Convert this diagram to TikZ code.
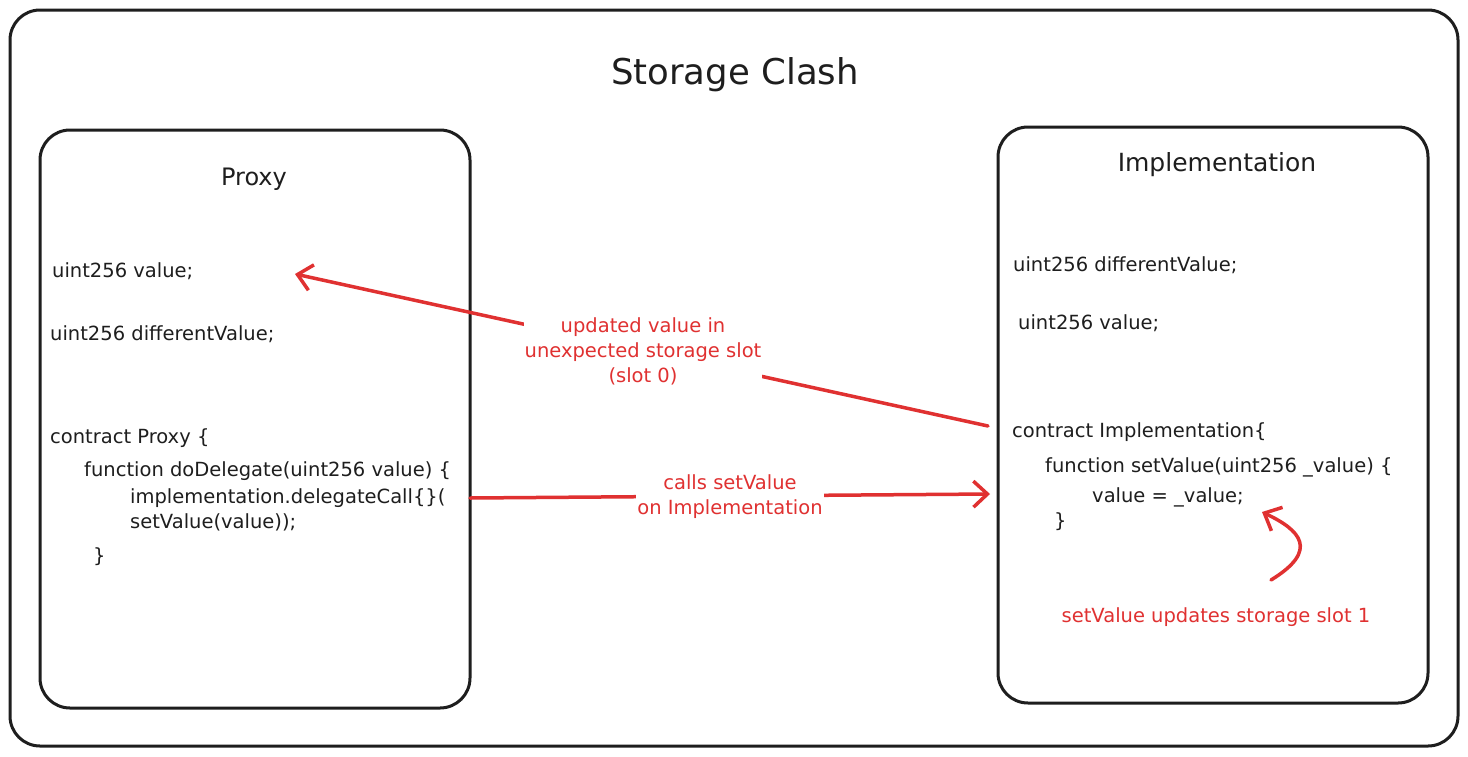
\documentclass[tikz,border=0pt]{standalone}
\usepackage{fontspec}
\setmainfont{DejaVu Sans}
\usetikzlibrary{arrows.meta}
\definecolor{ink}{HTML}{1E1E1E}
\definecolor{redink}{HTML}{E03131}
\tikzset{
  frame/.style={draw=ink, line width=3pt, rounded corners=30pt},
  code/.style={anchor=west, text=ink, font=\fontsize{19.5}{22}\selectfont, inner sep=0pt},
  redlbl/.style={text=redink, font=\fontsize{19.5}{25}\selectfont, align=center, fill=white, inner sep=1pt},
  redarrow/.style={draw=redink, line width=3.5pt, line cap=round, -{Straight Barb[length=14pt, width=26pt, line width=3.5pt]}},
}
\begin{document}
\begin{tikzpicture}[x=1pt, y=-1pt]
\useasboundingbox (0,0) rectangle (1468,756);
\fill[white] (0,0) rectangle (1468,756);
% outer frame
\draw[frame] (10,10) rectangle (1458,746);
\node[text=ink, font=\fontsize{35.5}{40}\selectfont] (title) at (735,75) {Storage Clash};
% boxes
\draw[frame] (40,130) rectangle (470,708);
\draw[frame] (998,127) rectangle (1428,703);
\node[text=ink, font=\fontsize{24}{28}\selectfont] (proxyT) at (254,179) {Proxy};
\node[text=ink, font=\fontsize{25}{30}\selectfont] (implT) at (1217,165) {Implementation};
% proxy code
\node[code] (pv) at (52,271) {uint256 value;};
\node[code] (pdv) at (50,334) {uint256 differentValue;};
\node[code] (pc) at (50,438) {contract Proxy \{};
\node[code] (pf) at (84,471) {function doDelegate(uint256 value) \{};
\node[code] (pi) at (130,498) {implementation.delegateCall\{\}(};
\node[code] (ps) at (130,522) {setValue(value));};
\node[code] (pb) at (93,557) {\}};
% implementation code
\node[code] (idv) at (1013,265) {uint256 differentValue;};
\node[code] (iv) at (1018,323) {uint256 value;};
\node[code] (ic) at (1012,432) {contract Implementation\{};
\node[code] (if) at (1045,467) {function setValue(uint256 \_value) \{};
\node[code] (ia) at (1092,497) {value = \_value;};
\node[code] (ib) at (1054,522) {\}};
% connectors
\coordinate (a1s) at (988,426);
\coordinate (a1e) at (295,274);
\coordinate (a2s) at (470,498);
\coordinate (a2e) at (990,494);
\coordinate (a3s) at (1271,580);
\coordinate (a3e) at (1262,512);
\draw[redarrow] (a1s) -- (a1e);
\draw[redarrow] (a2s) -- (a2e);
\draw[redarrow] (a3s) .. controls (1320,550) and (1300,530) .. (a3e);
\node[redlbl] (l1) at (643,351) {updated value in\\unexpected storage slot\\(slot 0)};
\node[redlbl] (l2) at (730,497) {calls setValue\\on Implementation};
\node[text=redink, font=\fontsize{19.5}{22}\selectfont] (l3) at (1216,617) {setValue updates storage slot 1};
\end{tikzpicture}
\end{document}
